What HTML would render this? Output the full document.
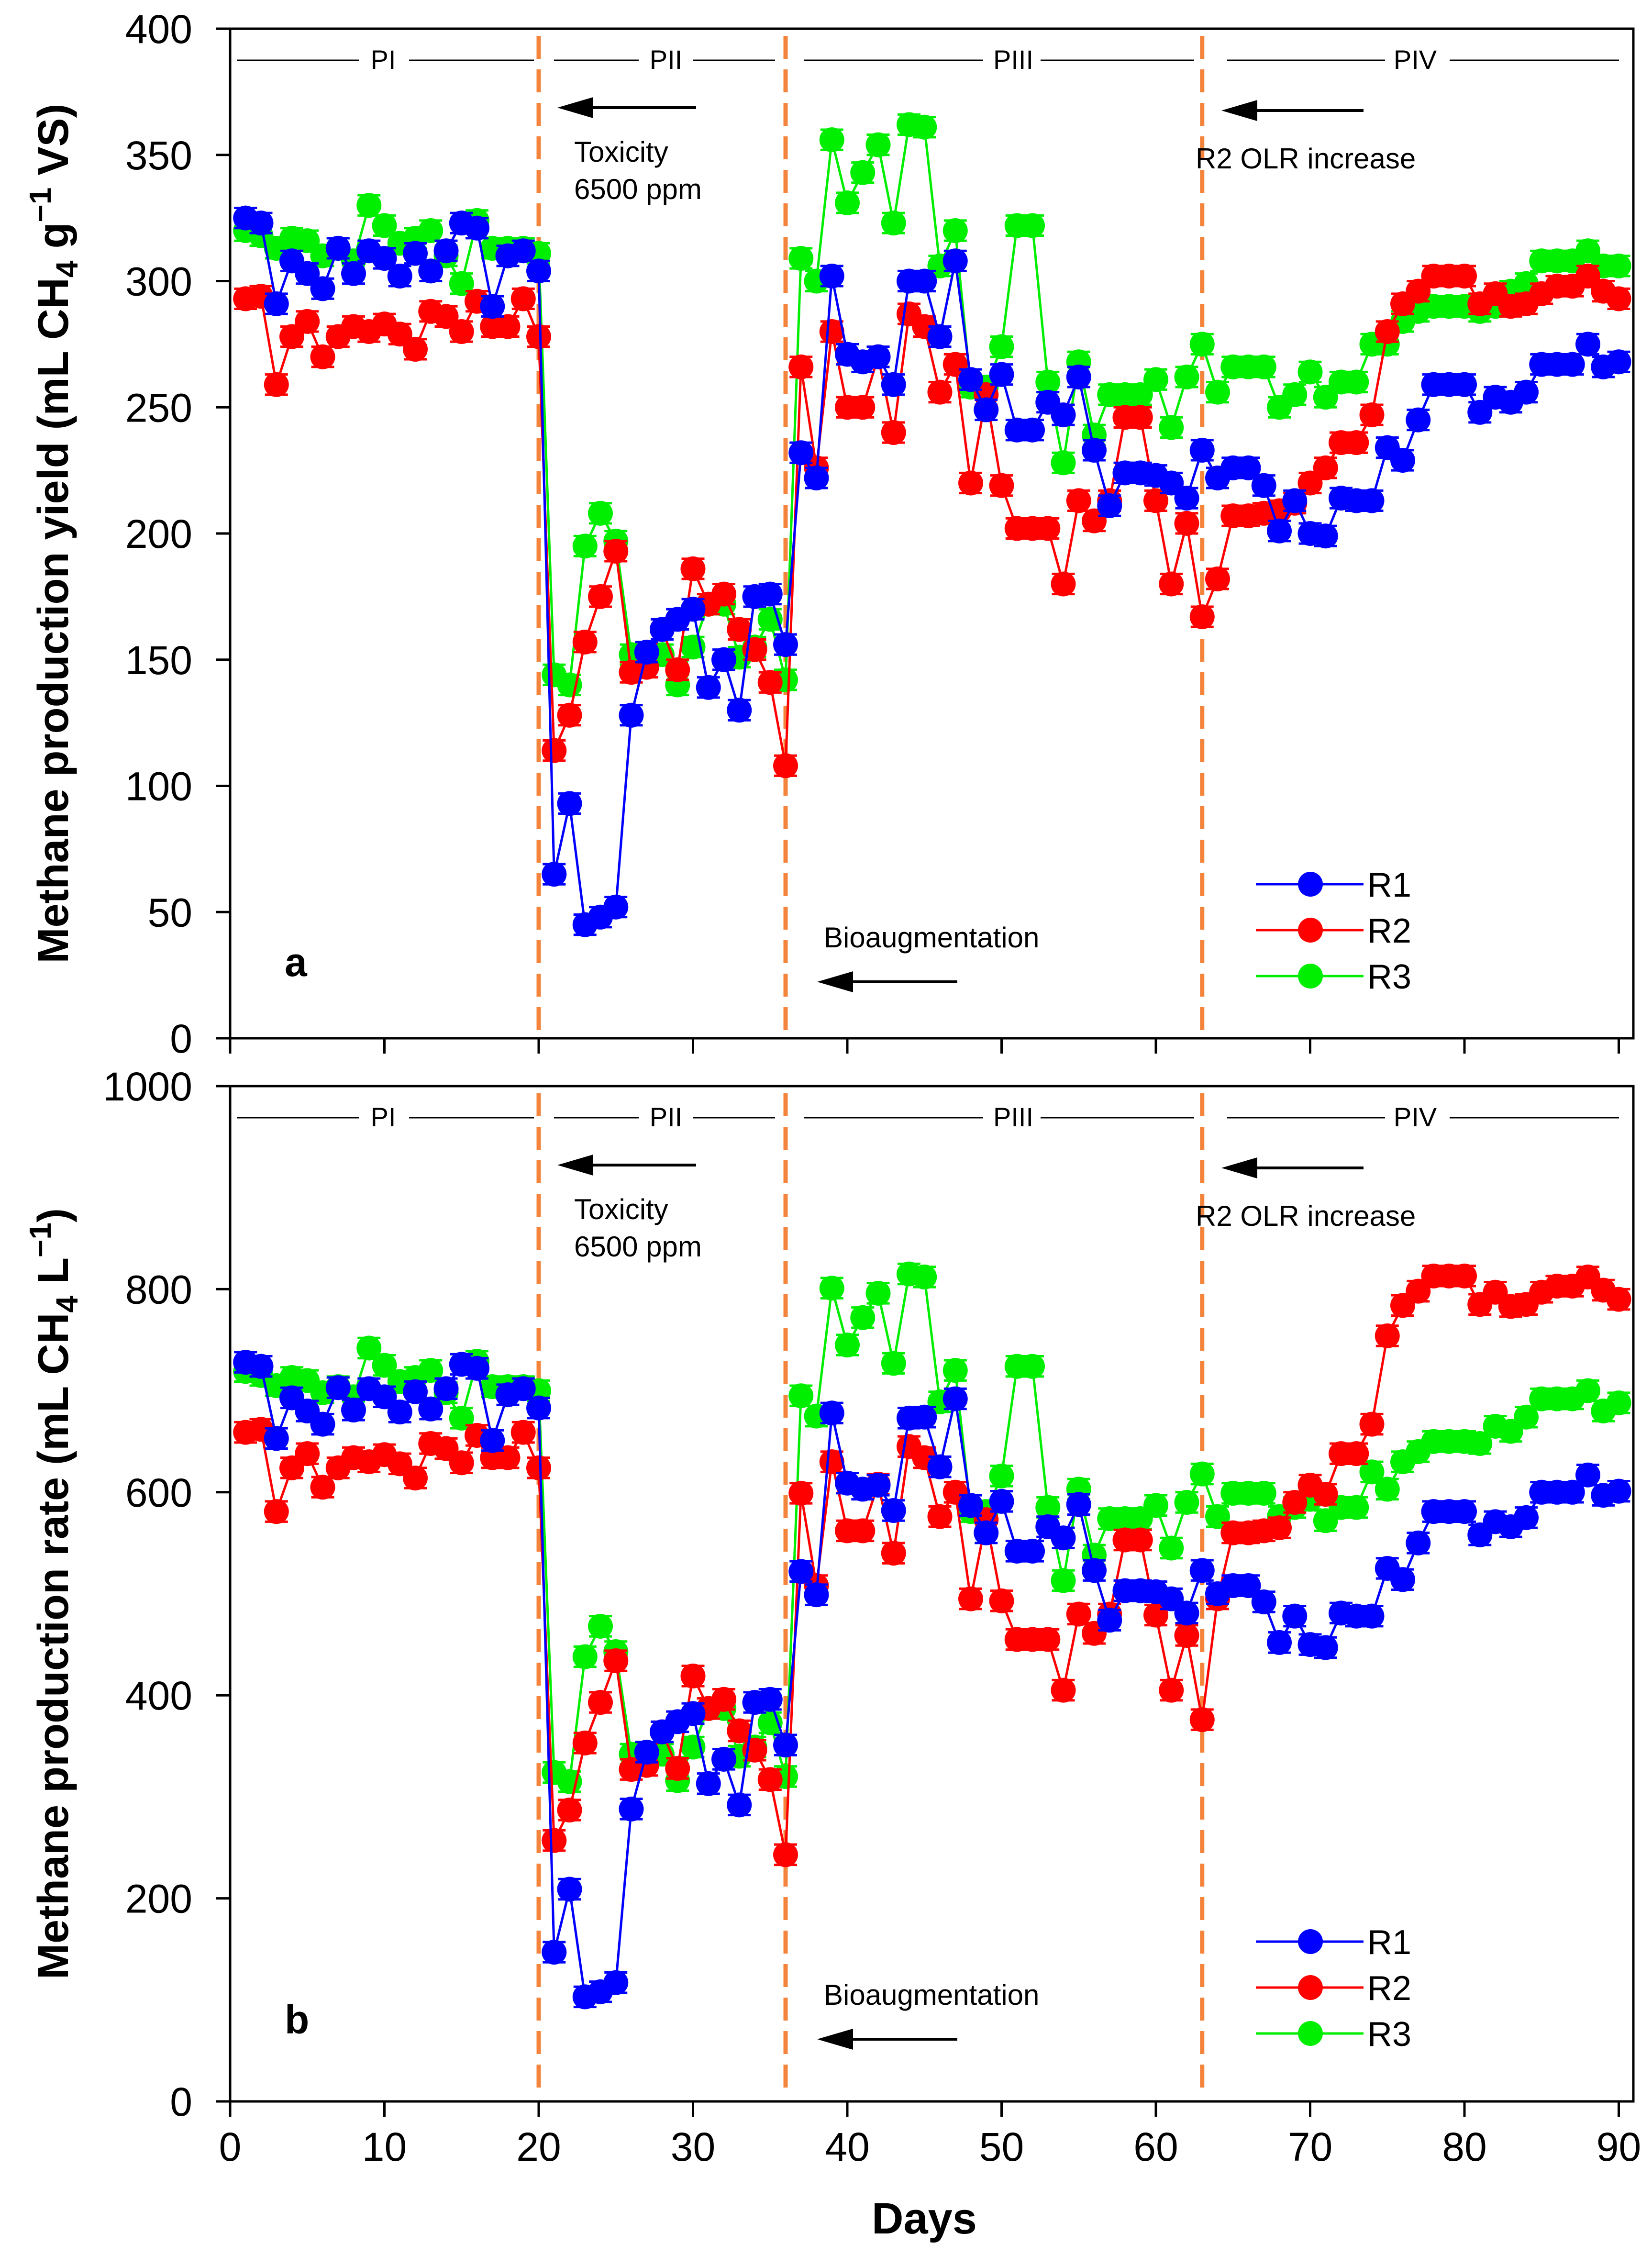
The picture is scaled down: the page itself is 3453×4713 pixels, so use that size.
<!DOCTYPE html>
<html><head><meta charset="utf-8"><style>
html,body{margin:0;padding:0;background:#fff}
svg{display:block}
text{font-family:"Liberation Sans",Arial,sans-serif}
</style></head><body>
<svg id="chart" width="3453" height="4713" viewBox="0 0 3453 4713" xmlns="http://www.w3.org/2000/svg"></svg>
<script>
const days = Array.from({length:90},(_,i)=>i+1);
const xTicks = [0,10,20,30,40,50,60,70,80,90];
const yTicksTop = [0,50,100,150,200,250,300,350,400];
const yTicksBot = [0,200,400,600,800,1000];
const phaseDays = [20,36,63];
const yieldR1 = [325,323,291,308,303,297,313,303,312,309,302,311,304,312,323,321,290,310,312,304,65,93,45,48,52,128,153,162,166,170,139,150,130,175,176,156,232,222,302,271,268,270,259,300,300,278,308,261,249,263,241,241,252,247,262,233,211,224,224,223,220,214,233,222,226,226,219,201,213,200,199,214,213,213,234,229,245,259,259,259,248,254,252,256,267,267,267,275,266,268];
const yieldR2 = [293,294,259,278,284,270,278,282,280,283,279,273,288,286,280,292,282,282,293,278,114,128,157,175,193,145,147,162,146,186,172,176,162,154,141,108,266,226,280,250,250,270,240,287,282,256,267,220,255,219,202,202,202,180,213,205,213,246,246,213,180,204,167,182,207,207,208,209,212,220,226,236,236,247,280,291,296,302,302,302,291,295,290,291,295,298,298,302,296,293];
const yieldR3 = [320,318,313,317,316,310,313,308,330,322,315,317,320,310,299,324,313,313,313,311,144,140,195,208,197,152,152,152,140,155,172,172,151,155,166,142,309,300,356,331,343,354,323,362,361,306,320,258,258,274,322,322,260,228,268,239,255,255,255,261,242,262,275,256,266,266,266,250,255,264,254,260,260,275,275,284,288,290,290,290,288,290,296,299,308,308,308,312,306,306];
const rateR1 = [728,724,653,693,680,667,703,681,702,694,679,699,682,702,726,722,651,696,702,683,147,209,103,108,117,288,344,364,374,382,313,337,292,393,396,351,522,499,678,609,603,607,582,673,674,625,692,587,560,591,542,542,566,555,588,523,474,503,503,502,495,481,523,500,508,508,492,452,478,450,447,481,478,478,525,514,550,581,581,581,558,571,566,575,600,600,600,617,597,601];
const rateR2 = [659,662,581,624,638,605,624,634,630,637,628,614,648,643,629,656,634,634,659,624,257,287,353,393,434,327,331,364,328,419,387,396,365,346,317,243,599,508,630,562,562,608,540,645,634,576,600,495,573,493,455,455,455,405,480,461,480,553,553,479,405,459,376,495,560,560,562,565,590,607,598,638,638,667,754,784,798,813,813,813,785,797,783,785,797,803,803,812,799,790];
const rateR3 = [719,715,705,713,710,698,704,694,742,725,709,713,720,698,673,729,704,704,704,700,324,315,438,468,443,342,342,342,316,349,387,387,340,349,373,320,695,675,801,745,772,796,727,815,812,689,720,581,581,616,724,724,585,513,603,538,574,574,574,587,545,590,618,576,599,599,599,576,585,593,572,585,585,620,603,630,640,650,650,650,648,665,660,674,692,692,692,700,680,688];

const NS="http://www.w3.org/2000/svg";
const svg=document.getElementById('chart');
function mk(tag,attrs,parent,txt){const e=document.createElementNS(NS,tag);for(const k in attrs)e.setAttribute(k,attrs[k]);if(txt!==undefined)e.textContent=txt;(parent||svg).appendChild(e);return e;}
const X0=481,PX=32.25,XR=3414;
const xs=d=>X0+PX*d;
const colors={R1:'#0000ff',R2:'#ff0000',R3:'#00ee00'};

function panel(cfg){
  const g=mk('g',{});
  
  
  const ys=v=>cfg.y0-(v/cfg.max)*(cfg.y0-cfg.yTop);
  const fr=mk('rect',{x:X0,y:cfg.yTop,width:XR-X0,height:cfg.y0-cfg.yTop,fill:'none',stroke:'#000','stroke-width':5},g);
  
  
  cfg.yticks.forEach(v=>{
    mk('line',{x1:X0-30,x2:X0,y1:ys(v),y2:ys(v),stroke:'#000','stroke-width':5},g);
    const t=mk('text',{x:402,y:ys(v)+30,'text-anchor':'end','font-size':84},g,String(v));
    
    
  });
  xTicks.forEach(d=>{
    mk('line',{x1:xs(d),x2:xs(d),y1:cfg.y0,y2:cfg.y0+32,stroke:'#000','stroke-width':5},g);
    if(cfg.xlabels){
      const t=mk('text',{x:xs(d),y:4516,'text-anchor':'middle','font-size':84},g,String(d));
      
      
    }
  });
  const yt=mk('text',{transform:`translate(142,${(cfg.y0+cfg.yTop)/2}) rotate(-90)`,'text-anchor':'middle','font-size':90,'font-weight':'bold'},g);
  
  
  cfg.title(yt);
  const py=cfg.yTop+66;
  const segs=[[495,750,'PI',801],[855,1116,null],[1158,1335,'PII',1392],[1449,1620,null],[1680,2055,'PIII',2118],[2175,2496,null],[2565,2895,'PIV',2958],[3030,3384,null]];
  segs.forEach(s=>{
    mk('line',{x1:s[0],x2:s[1],y1:py,y2:py,stroke:'#000','stroke-width':3},g);
    if(s[2]){const t=mk('text',{x:s[3],y:py+18,'text-anchor':'middle','font-size':56},g,s[2]);
      
      }
  });
  phaseDays.forEach(d=>{
    const l=mk('line',{x1:xs(d),x2:xs(d),y1:cfg.yTop+15,y2:cfg.y0-15,stroke:'#f4843c','stroke-width':9,'stroke-dasharray':'48 22'},g);
    
    
  });
  const off=cfg.yTop-60;
  function arrow(x1,x2,y,name){
    const a=mk('g',{},g);
    
    
    mk('line',{x1:x1,x2:x2+60,y1:y,y2:y,stroke:'#000','stroke-width':6},a);
    mk('polygon',{points:`${x2},${y} ${x2+75},${y-22} ${x2+75},${y+22}`,fill:'#000'},a);
  }
  arrow(1455,1165,225+off,'toxicity-arrow');
  arrow(2850,2553,231+off,'olr-arrow');
  arrow(2001,1708,2052+off,'bioaugmentation-arrow');
  [['Toxicity',1200,338,'toxicity-label'],['6500 ppm',1200,416,'toxicity-ppm-label'],['R2 OLR increase',2499,352,'olr-label'],['Bioaugmentation',1722,1980,'bioaugmentation-label']].forEach(a=>{
    const t=mk('text',{x:a[1],y:a[2]+off,'font-size':60},g,a[0]);
    
    
  });
  const pl=mk('text',{x:595,y:2040+off,'font-size':84,'font-weight':'bold'},g,cfg.letter);
  
  
  const series=[['R3',cfg.r3],['R2',cfg.r2],['R1',cfg.r1]];
  series.forEach(([nm,vals])=>{
    const sg=mk('g',{},g);
    
    
    const c=colors[nm];
    mk('polyline',{points:vals.map((v,i)=>xs(days[i])+','+ys(v)).join(' '),fill:'none',stroke:c,'stroke-width':5},sg);
    vals.forEach((v,i)=>{
      const x=xs(days[i]);
      [v-cfg.err,v+cfg.err].forEach(e=>mk('line',{x1:x-24,x2:x+24,y1:ys(e),y2:ys(e),stroke:c,'stroke-width':5},sg));
      mk('line',{x1:x,x2:x,y1:ys(v-cfg.err),y2:ys(v+cfg.err),stroke:c,'stroke-width':5},sg);
      const p=mk('circle',{cx:x,cy:ys(v),r:26,fill:c},sg);
      
      
    });
  });
  const lg=mk('g',{},g);
  
  
  ['R1','R2','R3'].forEach((nm,i)=>{
    const y=1848+off+i*96;
    const e=mk('g',{},lg);
    
    
    mk('line',{x1:2625,x2:2850,y1:y,y2:y,stroke:colors[nm],'stroke-width':5},e);
    mk('circle',{cx:2739,cy:y,r:26,fill:colors[nm]},e);
    mk('text',{x:2858,y:y+26,'font-size':72},e,nm);
  });
}
panel({name:'panel-a-yield',yTop:60,y0:2170,max:400,yticks:yTicksTop,r1:yieldR1,r2:yieldR2,r3:yieldR3,err:4,letter:'a',xlabels:false,
  title:t=>{t.innerHTML='Methane production yield (mL CH<tspan dy="20" font-size="64">4</tspan><tspan dy="-20"> g</tspan><tspan dy="-36" font-size="64">−1</tspan><tspan dy="36"> VS)</tspan>';}});
panel({name:'panel-b-rate',yTop:2270,y0:4392,max:1000,yticks:yTicksBot,r1:rateR1,r2:rateR2,r3:rateR3,err:10,letter:'b',xlabels:true,
  title:t=>{t.innerHTML='Methane production rate (mL CH<tspan dy="20" font-size="64">4</tspan><tspan dy="-20"> L</tspan><tspan dy="-36" font-size="64">−1</tspan><tspan dy="36">)</tspan>';}});
const xt=mk('text',{x:1932,y:4668,'text-anchor':'middle','font-size':92,'font-weight':'bold'},svg,'Days');


</script>
</body></html>
